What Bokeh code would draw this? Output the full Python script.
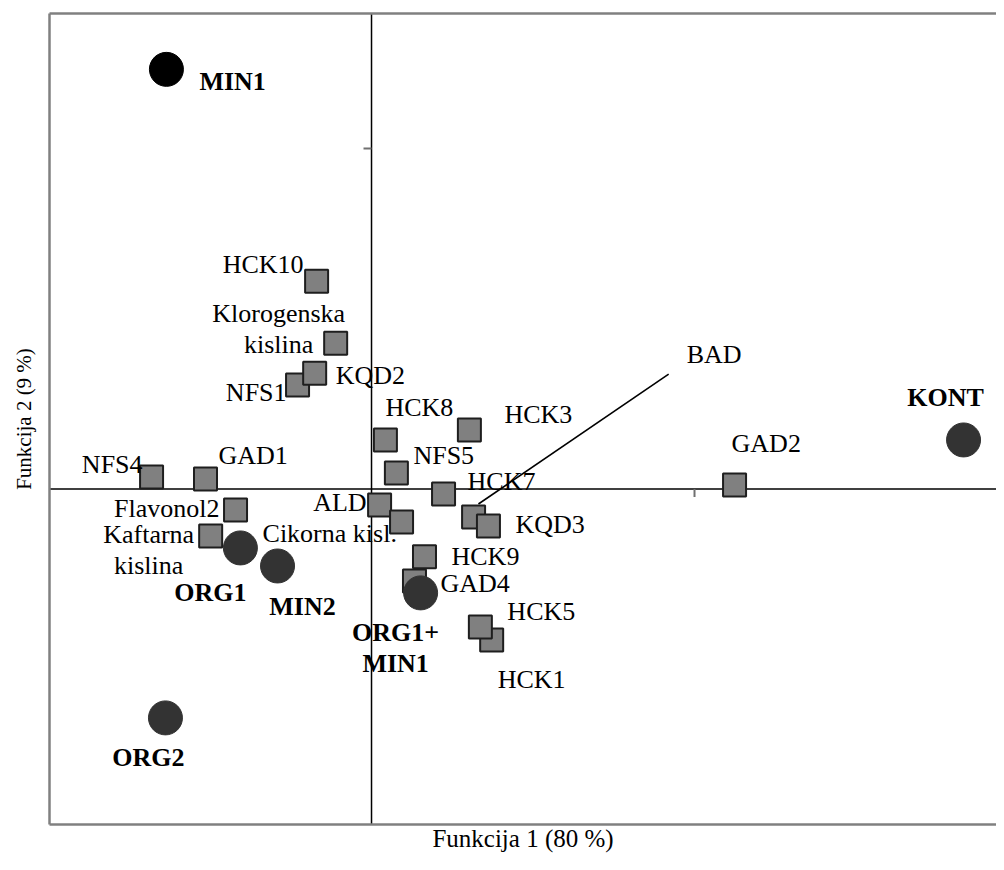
import math
from bokeh.plotting import figure
from bokeh.models import ColumnDataSource, Span, FixedTicker, LinearAxis
from bokeh.core.properties import value
from bokeh.embed import file_html
from bokeh.resources import INLINE

# ---------------- data ----------------
# variables (squares)
var_names = ["HCK10", "Klorogenska\nkislina", "NFS1", "KQD2", "HCK8", "HCK3", "NFS5",
             "HCK7", "ALD", "Cikorna kisl.", "", "KQD3", "HCK9", "GAD4", "HCK1", "HCK5",
             "GAD2", "NFS4", "GAD1", "Flavonol2", "Kaftarna\nkislina"]
var_x = [-0.170, -0.111, -0.229, -0.176, 0.043, 0.303, 0.077,
         0.223, 0.025, 0.093, 0.316, 0.362, 0.164, 0.133, 0.372, 0.337,
         1.124, -0.681, -0.514, -0.421, -0.498]
var_y = [0.610, 0.428, 0.305, 0.340, 0.144, 0.173, 0.047,
         -0.015, -0.047, -0.097, -0.082, -0.109, -0.199, -0.270, -0.443, -0.405,
         0.012, 0.035, 0.029, -0.062, -0.138]

# groups (circles)
grp_names = ["MIN1", "KONT", "ORG1", "MIN2", "ORG1+\nMIN1", "ORG2"]
grp_x = [-0.635, 1.833, -0.406, -0.291, 0.152, -0.638]
grp_y = [1.232, 0.144, -0.173, -0.226, -0.305, -0.672]

# BAD vector
bad_name = "BAD"
bad_x = [0.331, 0.920]
bad_y = [-0.044, 0.337]

axis_ticks = [-1, 1]
x_title = "Funkcija 1 (80 %)"
y_title = "Funkcija 2 (9 %)"

# ---------------- label placement (screen px) ----------------
SHIFT = -9
var_align = ["right", "center", "right", "left", "left", "left", "left",
             "left", "right", "left", "left", "left", "left", "left", "left", "left",
             "left", "right", "left", "right", "center"]
var_dx = [-13, -57, -11, 21, 0, 35, 17,
          24, -13, -139, 0, 27, 27, 26, 6, 27,
          -3, -9, 13, -16, -62]
var_dy = [-8, -21, 16, 11, -23, -7, -8,
          -4, 6, 20, 0, 7, 9, 12, 49, -6,
          -32, -4, -15, 7, 7]

grp_align = ["left", "center", "center", "center", "center", "center"]
grp_dx = [33, -18, -30, 25, -25, -17]
grp_dy = [21, -33, 54, 50, 49, 49]
grp_fill = ["#000000", "#333333", "#333333", "#333333", "#333333", "#333333"]

FONT = "Liberation Serif"
LH = 31


def label_source(names, xs, ys, aligns, dxs, dys):
    rows = dict(x=[], y=[], text=[], align=[], dx=[], dy=[])
    for n, x, y, a, dx, dy in zip(names, xs, ys, aligns, dxs, dys):
        for i, line in enumerate(n.split("\n")):
            if not line:
                continue
            rows["x"].append(x)
            rows["y"].append(y)
            rows["text"].append(line)
            rows["align"].append(a)
            rows["dx"].append(dx)
            rows["dy"].append(dy + i * LH + SHIFT)
    return ColumnDataSource(rows)


p = figure(width=996, height=854, x_range=(-0.997, 1.935), y_range=(-0.985, 1.396),
           output_backend="svg", toolbar_location=None,
           min_border_left=49, min_border_right=0, min_border_top=13, min_border_bottom=28)
p.outline_line_color = None
p.grid.visible = False
p.background_fill_color = "white"
p.border_fill_color = "white"

bottom_axis = p.below[0]
left_axis = p.left[0]
top_axis = LinearAxis()
p.add_layout(top_axis, "above")

for ax in [bottom_axis, left_axis, top_axis]:
    ax.ticker = FixedTicker(ticks=[])
    ax.major_tick_out = 0
    ax.major_tick_in = 0
    ax.minor_tick_out = 0
    ax.minor_tick_in = 0
    ax.major_label_text_font_size = "0px"
    ax.major_label_standoff = 0
    ax.axis_line_color = "#808080"
    ax.axis_line_width = 2.5
    ax.axis_label_text_font = FONT
    ax.axis_label_text_font_style = "normal"
    ax.axis_label_text_color = "black"

bottom_axis.axis_label = x_title
bottom_axis.axis_label_text_font_size = "25px"
bottom_axis.axis_label_standoff = 0
left_axis.axis_label = y_title
left_axis.axis_label_text_font_size = "21px"
left_axis.axis_label_standoff = 14

# central axes
p.add_layout(Span(location=0, dimension="height", line_color="black", line_width=1.5, level="underlay"))
p.add_layout(Span(location=0, dimension="width", line_color="black", line_width=1.5, level="underlay"))

# unit ticks on the central axes
p.ray(x=[0] * len(axis_ticks), y=axis_ticks, length=8, length_units="screen", angle=math.pi,
      line_color="#707070", line_width=2)
p.ray(x=axis_ticks, y=[0] * len(axis_ticks), length=8, length_units="screen", angle=-math.pi / 2,
      line_color="#707070", line_width=2)

# BAD vector
p.line(x=bad_x, y=bad_y, line_color="black", line_width=1.6)
p.text(x=[bad_x[1]], y=[bad_y[1]], text=[bad_name], x_offset=18, y_offset=-11 + SHIFT,
       text_align="left", text_baseline="alphabetic",
       text_font=value(FONT), text_font_size="26px", text_color="black")

# variables
p.scatter(x=var_x, y=var_y, marker="square", size=23, fill_color="#808080",
          line_color="#1e1e1e", line_width=2)
vsrc = label_source(var_names, var_x, var_y, var_align, var_dx, var_dy)
p.text(x="x", y="y", text="text", x_offset="dx", y_offset="dy", text_align="align",
       text_baseline="alphabetic", source=vsrc,
       text_font=value(FONT), text_font_size="26px", text_color="black")

# groups
gsrc_pts = ColumnDataSource(dict(x=grp_x, y=grp_y, fill=grp_fill))
p.scatter(x="x", y="y", marker="circle", size=34, fill_color="fill", line_color="fill",
          line_width=1, source=gsrc_pts)
gsrc = label_source(grp_names, grp_x, grp_y, grp_align, grp_dx, grp_dy)
p.text(x="x", y="y", text="text", x_offset="dx", y_offset="dy", text_align="align",
       text_baseline="alphabetic", source=gsrc,
       text_font=value(FONT), text_font_size="26px", text_font_style="bold", text_color="black")

open("out.html", "w").write(file_html(p, INLINE))
